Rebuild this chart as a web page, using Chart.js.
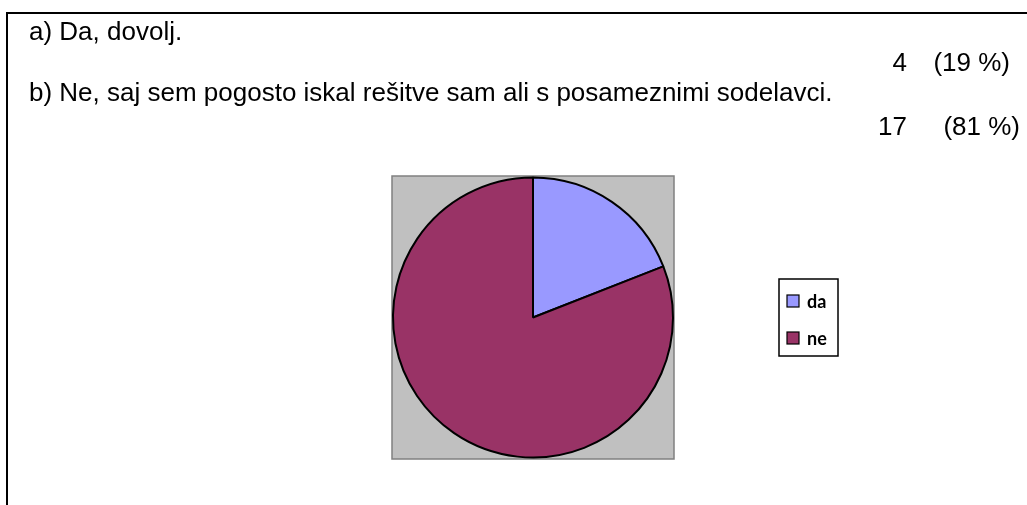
<!DOCTYPE html>
<html>
<head>
<meta charset="utf-8">
<script src="https://cdn.jsdelivr.net/npm/chart.js@4.4.1/dist/chart.umd.min.js"></script>
<style>
  html, body { margin: 0; padding: 0; background: #fff; }
  #wrap { position: relative; width: 1027px; height: 505px; }
</style>
</head>
<body>
<div id="wrap"><canvas id="chart" width="1027" height="505"></canvas></div>
<script>
const categories = ['da', 'ne'];
const counts = [4, 17];
const percentLabels = ['(19 %)', '(81 %)'];
const answers = ['a) Da, dovolj.', 'b) Ne, saj sem pogosto iskal rešitve sam ali s posameznimi sodelavci.'];
const colors = ['#9999FF', '#993366'];

// frame, question text, grey plot background and the legend box
const decor = {
  id: 'decor',
  beforeDraw: function(chart) {
    const c = chart.ctx;
    const a = chart.chartArea;
    c.save();
    c.fillStyle = '#ffffff';
    c.fillRect(0, 0, chart.width, chart.height);

    // outer frame (top + left only visible)
    c.strokeStyle = '#000';
    c.lineWidth = 2;
    c.beginPath();
    c.moveTo(7, 505);
    c.lineTo(7, 13);
    c.lineTo(1027, 13);
    c.stroke();

    // answers
    c.fillStyle = '#000';
    c.font = '26px "Liberation Sans", Arial, sans-serif';
    c.textBaseline = 'alphabetic';
    c.textAlign = 'left';
    c.fillText(answers[0], 29, 40);
    c.fillText(answers[1], 29, 101);

    c.textAlign = 'right';
    c.fillText(String(counts[0]), 907, 71);
    c.fillText(percentLabels[0], 1010, 71);
    c.fillText(String(counts[1]), 907, 135);
    c.fillText(percentLabels[1], 1020, 135);

    // grey plot area
    c.fillStyle = '#C0C0C0';
    c.fillRect(a.left, a.top, a.right - a.left, a.bottom - a.top);
    c.strokeStyle = '#808080';
    c.lineWidth = 1.5;
    c.strokeRect(a.left, a.top, a.right - a.left, a.bottom - a.top);

    // legend
    c.fillStyle = '#fff';
    c.fillRect(779, 279, 59, 77);
    c.strokeStyle = '#000';
    c.lineWidth = 1.5;
    c.strokeRect(779, 279, 59, 77);
    c.font = 'bold 18px Lato, "Open Sans", sans-serif';
    c.textAlign = 'left';
    c.textBaseline = 'middle';
    const rowY = [301, 338];
    for (let i = 0; i < categories.length; i++) {
      const y = rowY[i];
      c.fillStyle = colors[i];
      c.fillRect(787, y - 6, 12, 12);
      c.strokeStyle = '#000';
      c.lineWidth = 1.2;
      c.strokeRect(787, y - 6, 12, 12);
      c.fillStyle = '#000';
      c.fillText(categories[i], 807, y + 1);
    }
    c.restore();
  }
};

new Chart(document.getElementById('chart'), {
  type: 'pie',
  data: {
    labels: categories,
    datasets: [{
      data: counts,
      backgroundColor: colors,
      borderColor: '#000',
      borderWidth: 2,
      hoverOffset: 0
    }]
  },
  options: {
    responsive: false,
    animation: false,
    events: [],
    layout: { padding: { left: 392, right: 1027 - 674, top: 176, bottom: 505 - 459 } },
    plugins: {
      legend: { display: false },
      tooltip: { enabled: false }
    }
  },
  plugins: [decor]
});
</script>
</body>
</html>
